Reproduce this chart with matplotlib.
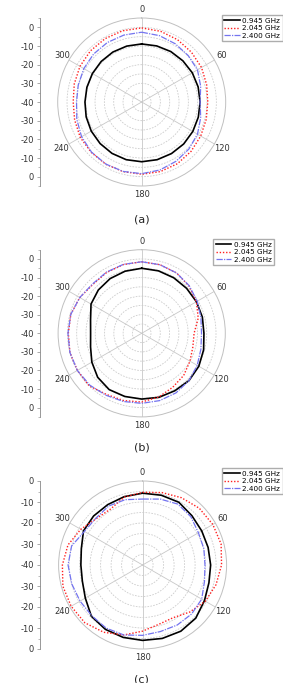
import numpy as np
import matplotlib.pyplot as plt
from matplotlib.ticker import MultipleLocator

# angles in degrees (0 at top, clockwise)
angles = np.arange(0, 360, 15)
legend_labels = ["0.945 GHz", "2.045 GHz", "2.400 GHz"]
theta_ticks = [0, 60, 120, 180, 240, 300]

# (a)
a_0945 = [-8.9, -8.9, -8.8, -8.8, -8.7, -8.7, -8.7, -8.6, -8.4, -8.2, -8.1, -8.0,
          -8.0, -8.0, -8.2, -8.5, -8.8, -9.2, -9.6, -9.6, -9.5, -9.3, -9.1, -9.0]
a_2045 = [-0.3, -0.8, -1.5, -2.3, -3.0, -4.0, -4.6, -4.2, -3.5, -2.6, -1.8, -1.4,
          -1.3, -1.4, -1.5, -1.8, -2.0, -2.8, -3.3, -2.6, -1.8, -1.2, -0.8, -0.5]
a_2400 = [-2.6, -3.2, -4.0, -4.8, -5.5, -7.3, -8.7, -7.3, -5.5, -4.3, -3.3, -2.3,
          -1.6, -1.5, -1.6, -2.0, -2.8, -4.0, -5.1, -4.8, -4.2, -3.6, -3.2, -2.9]

# (b)
b_0945 = [-5.0, -5.2, -5.5, -5.8, -6.0, -6.2, -6.5, -5.5, -4.5, -4.0, -4.3, -4.3,
          -4.6, -4.8, -5.0, -6.5, -9.0, -11.5, -12.5, -11.5, -8.5, -7.0, -6.0, -5.4]
b_2045 = [-1.5, -1.8, -2.5, -4.0, -6.0, -8.5, -11.8, -11.5, -10.0, -8.0, -6.5, -4.5,
          -3.0, -2.5, -2.0, 0.0, 0.0, 0.0, -0.5, -0.5, -1.5, -2.8, -2.2, -1.7]
b_2400 = [-1.5, -1.8, -2.5, -3.8, -5.5, -7.0, -7.8, -7.0, -5.5, -4.0, -3.0, -2.5,
          -2.3, -2.0, -1.5, -0.5, 0.0, 0.0, -0.3, -0.5, -1.5, -2.5, -2.0, -1.6]

# (c)
c_0945 = [-5.8, -5.6, -5.5, -6.8, -7.5, -7.7, -7.6, -7.3, -6.0, -4.2, -3.6, -3.8,
          -4.1, -4.3, -4.6, -5.5, -8.5, -10.3, -10.6, -9.8, -7.5, -7.0, -6.8, -6.3]
c_2045 = [-5.4, -4.3, -3.0, -1.8, -1.4, -1.3, -2.4, -3.8, -5.5, -8.3, -11.0, -10.7,
          -8.5, -5.5, -3.0, -1.1, -0.7, -0.7, -1.8, -3.2, -6.0, -8.8, -9.3, -6.5]
c_2400 = [-8.6, -7.5, -6.5, -7.5, -9.3, -9.8, -10.3, -9.5, -7.5, -7.0, -7.0, -7.2,
          -6.5, -5.5, -5.3, -5.8, -5.6, -5.1, -4.5, -5.0, -8.0, -8.5, -7.6, -7.8]

W, H = 283, 683
fig = plt.figure(figsize=(W / 100, H / 100), dpi=100)

styles = [dict(color="black", lw=1.2, ls="-"),
          dict(color="#ff2020", lw=1.0, ls=(0, (1, 1.3))),
          dict(color="#7474f0", lw=0.9, ls=(0, (5, 1, 1, 1)))]

# panel: data, centre x/y (px), radius (px), r max, legend left/top (px), caption
panels = [
    ([a_0945, a_2045, a_2400], 141.7, 102.0, 84.0, 5, (221.7, 15), "(a)", 220),
    ([b_0945, b_2045, b_2400], 141.7, 333.3, 83.6, 5, (213.0, 239), "(b)", 447),
    ([c_0945, c_2045, c_2400], 142.6, 565.0, 84.0, 0, (221.7, 468), "(c)", 679),
]

for series, cx, cy, rp, rmax, (lx, ly), cap, capy in panels:
    ax = fig.add_axes([(cx - rp) / W, (H - cy - rp) / H, 2 * rp / W, 2 * rp / H],
                      projection="polar")
    ax.set_theta_zero_location("N")
    ax.set_theta_direction(-1)
    ax.set_rlim(-40, rmax)
    ax.set_rticks(np.arange(-35, rmax, 5))
    ax.set_yticklabels([])
    ax.set_thetagrids(theta_ticks, [str(t) for t in theta_ticks], fontsize=6,
                      color="#333333")
    ax.tick_params(axis="x", pad=-4.5)
    ax.xaxis.grid(True, color="#c8c8c8", lw=0.6, ls="-")
    ax.yaxis.grid(True, color="#cccccc", lw=0.6, ls=(0, (2, 1.5)))
    ax.spines["polar"].set_color("#c0c0c0")
    ax.spines["polar"].set_linewidth(0.7)
    th = np.deg2rad(np.append(angles, 360))
    lines = []
    for vals, st in zip(series, styles):
        ln, = ax.plot(th, np.append(vals, vals[0]), **st)
        lines.append(ln)

    # linear dB scale on the left
    R = rmax + 40
    lax = fig.add_axes([40 / W, (H - cy - rp) / H, 0.001, 2 * rp / H])
    lax.set_ylim(-R, R)
    for s in ["top", "right", "bottom"]:
        lax.spines[s].set_visible(False)
    lax.spines["left"].set_color("#888888")
    lax.spines["left"].set_linewidth(0.6)
    lax.set_xticks([])
    pos = np.arange(-40, 41, 10)
    lax.set_yticks(pos)
    lax.set_yticklabels([str(int(-40 + abs(p))) for p in pos], fontsize=6,
                        color="#333333")
    lax.yaxis.set_minor_locator(MultipleLocator(5))
    lax.tick_params(axis="y", which="major", length=2.5, width=0.5, pad=2,
                    color="#888888")
    lax.tick_params(axis="y", which="minor", length=1.5, width=0.4,
                    color="#888888")

    fig.legend(lines, legend_labels, loc="upper left",
               bbox_to_anchor=(lx / W, 1 - ly / H), fontsize=5.2,
               frameon=True, fancybox=False, edgecolor="#999999",
               borderpad=0.35, labelspacing=0.2, handlelength=2.2,
               handletextpad=0.3, borderaxespad=0)
    fig.text(141.7 / W, 1 - capy / H, cap, ha="center", va="center", fontsize=8,
             color="#222222")

fig.savefig("out.png", dpi=100)
